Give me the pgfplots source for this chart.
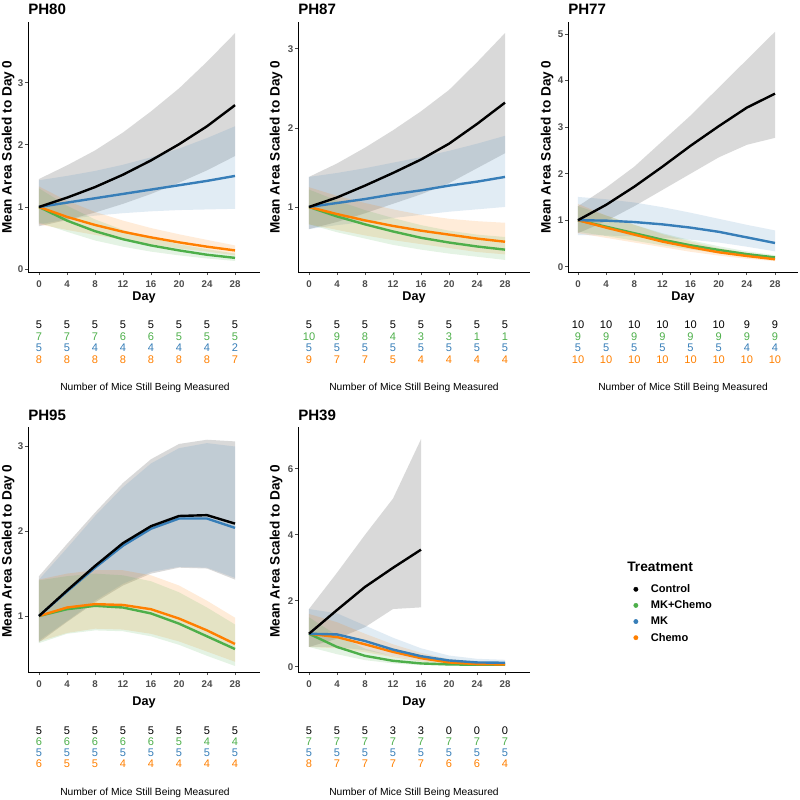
\documentclass[border=0pt]{standalone}
\usepackage{fontspec}
\setmainfont{Liberation Sans}
\usepackage{pgfplots}
\usepackage{pgfplotstable}
\pgfplotsset{compat=1.18}
\usepgfplotslibrary{fillbetween}

\definecolor{cgreen}{HTML}{4DAF4A}
\definecolor{cblue}{HTML}{377EB8}
\definecolor{corange}{HTML}{FF7F00}
\definecolor{tickgray}{HTML}{4D4D4D}

% day, control, MK+Chemo, MK, Chemo (mean, lower, upper)
\pgfplotstableread{
day c    cl   cu   g    gl   gu   b    bl   bu   o    ol   ou
0   1.00 0.69 1.45 1.00 0.75 1.30 1.00 0.72 1.43 1.00 0.72 1.33
4   1.15 0.79 1.67 0.78 0.60 1.02 1.07 0.80 1.50 0.84 0.63 1.10
8   1.32 0.91 1.91 0.61 0.46 0.80 1.14 0.86 1.58 0.71 0.55 0.92
12  1.52 1.05 2.20 0.48 0.36 0.63 1.21 0.90 1.68 0.60 0.47 0.78
16  1.75 1.21 2.54 0.38 0.28 0.50 1.28 0.93 1.80 0.51 0.40 0.66
20  2.01 1.39 2.91 0.30 0.22 0.40 1.35 0.95 1.94 0.43 0.33 0.56
24  2.30 1.59 3.34 0.23 0.17 0.32 1.42 0.96 2.11 0.36 0.28 0.47
28  2.64 1.82 3.80 0.18 0.13 0.25 1.50 0.97 2.30 0.30 0.22 0.38
}\tabA

\pgfplotstableread{
day c    cl   cu   g    gl   gu   b    bl   bu   o    ol   ou
0   1.00 0.72 1.38 1.00 0.78 1.22 1.00 0.72 1.38 1.00 0.78 1.25
4   1.12 0.81 1.55 0.88 0.68 1.08 1.05 0.77 1.43 0.91 0.71 1.14
8   1.27 0.92 1.75 0.78 0.60 0.96 1.10 0.81 1.49 0.83 0.64 1.05
12  1.43 1.04 1.97 0.69 0.52 0.86 1.16 0.86 1.56 0.76 0.58 0.97
16  1.60 1.16 2.21 0.61 0.46 0.77 1.21 0.90 1.63 0.70 0.53 0.90
20  1.80 1.30 2.48 0.55 0.41 0.70 1.27 0.94 1.71 0.65 0.48 0.85
24  2.05 1.49 2.83 0.50 0.37 0.65 1.32 0.97 1.80 0.60 0.43 0.82
28  2.32 1.68 3.20 0.46 0.33 0.62 1.38 1.00 1.90 0.56 0.40 0.80
}\tabB

\pgfplotstableread{
day c    cl   cu   g    gl   gu   b    bl   bu   o    ol   ou
0   1.00 0.72 1.30 1.00 0.75 1.30 1.00 0.68 1.50 1.00 0.72 1.35
4   1.33 0.98 1.70 0.86 0.66 1.10 0.99 0.67 1.45 0.84 0.62 1.10
8   1.72 1.30 2.15 0.72 0.56 0.90 0.96 0.65 1.38 0.69 0.52 0.90
12  2.15 1.65 2.70 0.58 0.46 0.72 0.91 0.62 1.28 0.54 0.42 0.70
16  2.60 2.00 3.25 0.46 0.37 0.57 0.84 0.58 1.16 0.42 0.32 0.54
20  3.02 2.35 3.85 0.36 0.29 0.44 0.75 0.52 1.03 0.31 0.24 0.40
24  3.42 2.62 4.45 0.27 0.22 0.33 0.63 0.43 0.90 0.23 0.17 0.30
28  3.72 2.77 5.05 0.20 0.16 0.25 0.51 0.33 0.78 0.16 0.12 0.21
}\tabC

\pgfplotstableread{
day c    cl   cu   g    gl   gu   b    bl   bu   o    ol   ou
0   1.00 0.69 1.47 1.00 0.68 1.42 1.00 0.71 1.43 1.00 0.70 1.43
4   1.30 0.93 1.85 1.08 0.79 1.47 1.29 0.94 1.80 1.10 0.80 1.50
8   1.59 1.16 2.22 1.12 0.83 1.50 1.57 1.18 2.18 1.14 0.85 1.54
12  1.86 1.36 2.57 1.10 0.82 1.48 1.83 1.38 2.52 1.13 0.84 1.54
16  2.06 1.50 2.85 1.03 0.76 1.41 2.03 1.52 2.80 1.08 0.79 1.48
20  2.18 1.57 3.03 0.91 0.66 1.28 2.15 1.58 2.98 0.97 0.70 1.36
24  2.19 1.56 3.08 0.76 0.53 1.10 2.15 1.57 3.04 0.83 0.58 1.18
28  2.09 1.43 3.06 0.61 0.41 0.90 2.04 1.45 3.00 0.67 0.46 0.98
}\tabD

\pgfplotstableread{
day g    gl    gu   b    bl   bu   o    ol   ou
0   1.00 0.60  1.50 1.00 0.60 1.75 1.00 0.60 1.60
4   0.60 0.38  0.95 0.98 0.60 1.62 0.90 0.56 1.35
8   0.33 0.20  0.55 0.78 0.50 1.25 0.68 0.44 1.00
12  0.18 0.10  0.32 0.52 0.33 0.88 0.45 0.29 0.68
16  0.10 0.05  0.19 0.32 0.20 0.56 0.26 0.16 0.42
20  0.07 0.035 0.13 0.19 0.11 0.34 0.13 0.08 0.23
24  0.06 0.03  0.11 0.13 0.07 0.24 0.08 0.05 0.15
28  0.06 0.03  0.10 0.12 0.06 0.21 0.07 0.04 0.13
}\tabE
\pgfplotstableread{
day c    cl   cu
0   1.00 0.60 1.75
4   1.72 0.85 2.85
8   2.42 1.20 4.00
12  3.00 1.75 5.10
16  3.55 1.80 6.90
}\tabEc

\pgfplotsset{
  panel/.style={
    scale only axis, width=174pt,
    xmin=-1.57, xmax=31.57,
    axis lines*=left,
    axis line style={black, line width=0.6pt},
    xtick={0,4,...,28},
    tick align=outside, major tick length=2.25pt,
    tick style={tickgray, line width=0.6pt},
    ticklabel style={font=\bfseries\fontsize{7.3}{8}\selectfont, text=tickgray},
    yticklabel style={xshift=2.2pt},
    xticklabel style={yshift=-1.1pt},
    /pgf/number format/assume math mode=true,
  },
  lw/.style={line width=1.8pt, line join=round},
}

\newcommand\ribbon[4]{%
  \addplot[draw=none, name path=#2] table[x=day,y=#2]{#1};
  \addplot[draw=none, name path=#3] table[x=day,y=#3]{#1};
  \addplot[fill=#4, fill opacity=0.15, draw=none] fill between[of=#2 and #3];
}
\newcommand\lines[1]{%
  \addplot[lw, cgreen] table[x=day,y=g]{#1};
  \addplot[lw, corange] table[x=day,y=o]{#1};
  \addplot[lw, cblue] table[x=day,y=b]{#1};
}
\newcommand\numrow[5]{%
  \foreach \v [count=\i from 0] in {#5}{%
    \node[font=\fontsize{8.3}{9}\selectfont, text=#4, inner sep=0pt] at ({#1+\i*#2},#3) {\v};}}

\begin{document}
\begin{tikzpicture}
% row 1
\begin{axis}[panel, at={(21pt,-204pt)}, height=187.5pt, ymin=-0.048, ymax=3.98, ytick={0,1,2,3}]
\ribbon{\tabA}{cl}{cu}{black}
\ribbon{\tabA}{bl}{bu}{cblue}
\ribbon{\tabA}{ol}{ou}{corange}
\ribbon{\tabA}{gl}{gu}{cgreen}
\lines{\tabA}
\addplot[lw, black] table[x=day,y=c]{\tabA};
\end{axis}

\begin{axis}[panel, at={(223.5pt,-204pt)}, height=187.5pt, ymin=0.177, ymax=3.34, ytick={1,2,3}]
\ribbon{\tabB}{cl}{cu}{black}
\ribbon{\tabB}{bl}{bu}{cblue}
\ribbon{\tabB}{ol}{ou}{corange}
\ribbon{\tabB}{gl}{gu}{cgreen}
\lines{\tabB}
\addplot[lw, black] table[x=day,y=c]{\tabB};
\end{axis}

\begin{axis}[panel, at={(426pt,-204pt)}, width=172.5pt, height=187.5pt, xmin=-1.42, xmax=31.27,
  ymin=-0.114, ymax=5.26, ytick={0,1,2,3,4,5}]
\ribbon{\tabC}{cl}{cu}{black}
\ribbon{\tabC}{bl}{bu}{cblue}
\ribbon{\tabC}{ol}{ou}{corange}
\ribbon{\tabC}{gl}{gu}{cgreen}
\lines{\tabC}
\addplot[lw, black] table[x=day,y=c]{\tabC};
\end{axis}

% row 2
\begin{axis}[panel, at={(21pt,-504pt)}, height=183.75pt, ymin=0.339, ymax=3.23, ytick={1,2,3}]
\ribbon{\tabD}{cl}{cu}{black}
\ribbon{\tabD}{bl}{bu}{cblue}
\ribbon{\tabD}{ol}{ou}{corange}
\ribbon{\tabD}{gl}{gu}{cgreen}
\lines{\tabD}
\addplot[lw, black] table[x=day,y=c]{\tabD};
\end{axis}

\begin{axis}[panel, at={(223.5pt,-504pt)}, height=183.75pt, ymin=-0.16, ymax=7.27, ytick={0,2,4,6}]
\ribbon{\tabEc}{cl}{cu}{black}
\ribbon{\tabE}{bl}{bu}{cblue}
\ribbon{\tabE}{ol}{ou}{corange}
\ribbon{\tabE}{gl}{gu}{cgreen}
\lines{\tabE}
\addplot[lw, black] table[x=day,y=c]{\tabEc};
\end{axis}

% legend
\begin{axis}[hide axis, scale only axis, at={(0pt,-600pt)}, width=600pt, height=600pt,
  xmin=0, xmax=1, ymin=0, ymax=1,
  legend style={draw=none, fill=none, at={(0.7825,0.27625)}, anchor=north west,
    font=\bfseries\fontsize{8.3}{9}\selectfont, row sep=1.1pt,
    nodes={inner sep=1pt, text height=7pt, text depth=2pt}},
  legend cell align=left,
  legend image code/.code={\fill (0pt,0pt) circle (1.6pt); \path (-4pt,0pt) (10pt,0pt);}]
\addlegendimage{color=black}\addlegendentry{Control}
\addlegendimage{color=cgreen}\addlegendentry{MK+Chemo}
\addlegendimage{color=cblue}\addlegendentry{MK}
\addlegendimage{color=corange}\addlegendentry{Chemo}
\end{axis}

\begin{scope}[x=0.75pt, y=-0.75pt]
\path[use as bounding box] (0,0) rectangle (800,800);
\tikzset{ttl/.style={anchor=west, inner sep=0pt, font=\bfseries\fontsize{11.3}{12}\selectfont},
  ylab/.style={rotate=90, inner sep=0pt, font=\bfseries\fontsize{10.2}{11}\selectfont},
  xlab/.style={inner sep=0pt, font=\bfseries\fontsize{9.5}{10}\selectfont},
  mcap/.style={inner sep=0pt, font=\fontsize{7.7}{8}\selectfont}}
\node[ttl] at (28,9) {PH80};
\node[ttl] at (298,9) {PH87};
\node[ttl] at (568,9) {PH77};
\node[ttl] at (28,415) {PH95};
\node[ttl] at (298,415) {PH39};

\node[ylab] at (8,147) {Mean Area Scaled to Day 0};
\node[ylab] at (276,147) {Mean Area Scaled to Day 0};
\node[ylab] at (547,147) {Mean Area Scaled to Day 0};
\node[ylab] at (8,551) {Mean Area Scaled to Day 0};
\node[ylab] at (276,551) {Mean Area Scaled to Day 0};

\node[xlab] at (144,297) {Day};
\node[xlab] at (414,297) {Day};
\node[xlab] at (683,297) {Day};
\node[xlab] at (144,702) {Day};
\node[xlab] at (414,702) {Day};

\node[mcap] at (145,388) {Number of Mice Still Being Measured};
\node[mcap] at (414,388) {Number of Mice Still Being Measured};
\node[mcap] at (683,388) {Number of Mice Still Being Measured};
\node[mcap] at (145,793) {Number of Mice Still Being Measured};
\node[mcap] at (414,793) {Number of Mice Still Being Measured};

% PH80
\numrow{39}{28}{325}{black}{5,5,5,5,5,5,5,5}
\numrow{39}{28}{336.5}{cgreen}{7,7,7,6,6,5,5,5}
\numrow{39}{28}{348}{cblue}{5,5,4,4,4,4,4,2}
\numrow{39}{28}{359.5}{corange}{8,8,8,8,8,8,8,7}
% PH87
\numrow{309}{28}{325}{black}{5,5,5,5,5,5,5,5}
\numrow{309}{28}{336.5}{cgreen}{10,9,8,4,3,3,1,1}
\numrow{309}{28}{348}{cblue}{5,5,5,5,5,5,5,5}
\numrow{309}{28}{359.5}{corange}{9,7,7,5,4,4,4,4}
% PH77
\numrow{578}{28.14}{325}{black}{10,10,10,10,10,10,9,9}
\numrow{578}{28.14}{336.5}{cgreen}{9,9,9,9,9,9,9,9}
\numrow{578}{28.14}{348}{cblue}{5,5,5,5,5,5,4,4}
\numrow{578}{28.14}{359.5}{corange}{10,10,10,10,10,10,10,10}
% PH95
\numrow{39}{28}{731}{black}{5,5,5,5,5,5,5,5}
\numrow{39}{28}{742}{cgreen}{6,6,6,6,6,5,4,4}
\numrow{39}{28}{753}{cblue}{5,5,5,5,5,5,5,5}
\numrow{39}{28}{764}{corange}{6,5,5,4,4,4,4,4}
% PH39
\numrow{309}{28}{731}{black}{5,5,5,3,3,0,0,0}
\numrow{309}{28}{742}{cgreen}{7,7,7,7,7,7,7,7}
\numrow{309}{28}{753}{cblue}{5,5,5,5,5,5,5,5}
\numrow{309}{28}{764}{corange}{8,7,7,7,7,6,6,4}

\node[anchor=west, inner sep=0pt, font=\bfseries\fontsize{10.3}{11}\selectfont] at (627,567) {Treatment};
\end{scope}
\end{tikzpicture}
\end{document}
